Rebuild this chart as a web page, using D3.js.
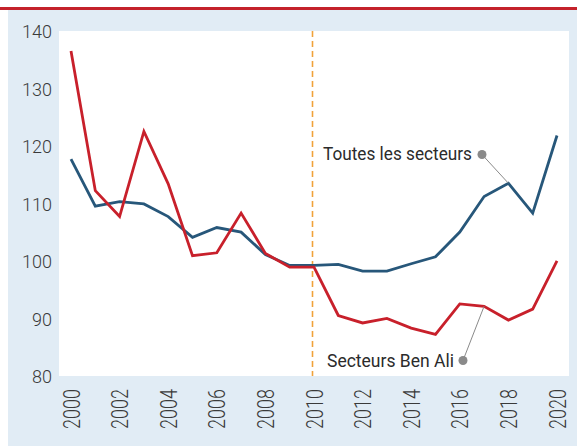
<!DOCTYPE html>
<html>
<head>
<meta charset="utf-8">
<script src="https://cdn.jsdelivr.net/npm/d3@7"></script>
<style>
  html, body { margin: 0; padding: 0; background: #fff; }
  svg { display: block; }
</style>
</head>
<body>
<script>
var width = 577, height = 446;

var years = d3.range(2000, 2021);
var toutesSecteurs = [117.9, 109.7, 110.5, 110.1, 107.9, 104.3, 106.0, 105.2, 101.3, 99.4, 99.4,
                      99.6, 98.4, 98.4, 99.7, 100.9, 105.2, 111.4, 113.7, 108.5, 122.0];
var secteursBenAli = [136.7, 112.4, 107.9, 122.7, 113.6, 101.1, 101.6, 108.5, 101.5, 99.1, 99.1,
                      90.7, 89.4, 90.2, 88.5, 87.4, 92.7, 92.3, 89.9, 91.8, 100.2];
var yTicks = [80, 90, 100, 110, 120, 130, 140];
var xTicks = d3.range(2000, 2021, 2);
var markerYear = 2010;

var svg = d3.select("body").append("svg")
  .attr("width", width)
  .attr("height", height);

// panel background + top rule
svg.append("rect").attr("x", 8).attr("y", 10).attr("width", width - 8).attr("height", height - 10)
  .attr("fill", "#e1ecf5");
svg.append("rect").attr("x", 0).attr("y", 7).attr("width", width).attr("height", 3)
  .attr("fill", "#c4222b");

var x = d3.scaleLinear().domain([2000, 2020]).range([71, 557]);
var y = d3.scaleLinear().domain([80, 140]).range([377, 32]);

// white plot area
svg.append("rect")
  .attr("x", 59).attr("y", y(140) - 1)
  .attr("width", 569 - 59).attr("height", y(80) - y(140))
  .attr("fill", "#fff");

// y axis
var yAxis = svg.append("g")
  .attr("transform", "translate(59,0)")
  .call(d3.axisLeft(y).tickValues(yTicks).tickSize(0).tickPadding(7));
yAxis.select(".domain").remove();
yAxis.selectAll("text")
  .attr("font-family", "Roboto, 'Liberation Sans', sans-serif")
  .attr("font-weight", 300)
  .attr("font-size", 18)
  .attr("fill", "#3a3a3a");

// x axis
var xAxis = svg.append("g")
  .attr("transform", "translate(0,376)")
  .call(d3.axisBottom(x).tickValues(xTicks).tickFormat(d3.format("d")).tickSize(0));
xAxis.select(".domain").remove();
xAxis.selectAll("text")
  .attr("font-family", "Roboto, 'Liberation Sans', sans-serif")
  .attr("font-weight", 300)
  .attr("font-size", 18)
  .attr("fill", "#3a3a3a")
  .attr("text-anchor", "end")
  .attr("x", 0).attr("y", 0).attr("dy", "0.35em")
  .attr("transform", "translate(0,13) rotate(-90) scale(1,1.3)");

// 2010 marker
svg.append("line")
  .attr("x1", x(markerYear) - 1.5).attr("x2", x(markerYear) - 1.5)
  .attr("y1", y(140) - 1).attr("y2", y(80) - 1)
  .attr("stroke", "#f0a23a").attr("stroke-width", 1.6)
  .attr("stroke-dasharray", "6,4");

var line = d3.line()
  .x(function(d, i) { return x(years[i]); })
  .y(function(d) { return y(d); });

svg.append("path").datum(toutesSecteurs)
  .attr("d", line).attr("fill", "none")
  .attr("stroke", "#27577a").attr("stroke-width", 2.8)
  .attr("stroke-linejoin", "miter");

svg.append("path").datum(secteursBenAli)
  .attr("d", line).attr("fill", "none")
  .attr("stroke", "#c8202b").attr("stroke-width", 2.8)
  .attr("stroke-linejoin", "miter");

// annotations
function annotate(label, tx, ty, tlen, dotX, dotY, year, values) {
  var i = years.indexOf(year);
  svg.append("line")
    .attr("x1", dotX).attr("y1", dotY)
    .attr("x2", x(year)).attr("y2", y(values[i]))
    .attr("stroke", "#8a8a8a").attr("stroke-width", 1);
  svg.append("circle").attr("cx", dotX).attr("cy", dotY).attr("r", 4.5)
    .attr("fill", "#8a8a8a");
  svg.append("text")
    .attr("x", tx).attr("y", ty)
    .attr("font-family", "'Liberation Sans Narrow', Roboto, sans-serif")
    .attr("font-size", 19)
    .attr("fill", "#2b2b2b")
    .attr("textLength", tlen)
    .attr("lengthAdjust", "spacingAndGlyphs")
    .text(label);
}

annotate("Toutes les secteurs", 323, 160, 149, 482, 154.5, 2018, toutesSecteurs);
annotate("Secteurs Ben Ali", 327, 367, 127, 463, 360.5, 2017, secteursBenAli);
</script>
</body>
</html>
